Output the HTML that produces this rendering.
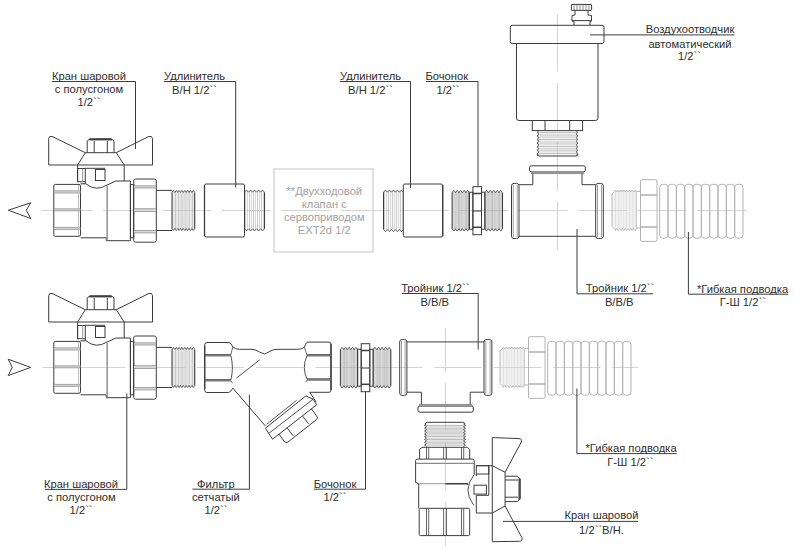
<!DOCTYPE html>
<html><head><meta charset="utf-8"><title>scheme</title>
<style>
html,body{margin:0;padding:0;background:#fff;width:800px;height:549px;overflow:hidden}
svg{display:block}
text{font-family:"Liberation Sans",sans-serif}
</style></head><body>
<svg width="800" height="549" viewBox="0 0 800 549">
<rect x="0" y="0" width="800" height="549" fill="#fff"/>
<line x1="41.5" y1="210.5" x2="92.7" y2="210.5" stroke="#d4d4d4" stroke-width="1"/>
<line x1="103.2" y1="210.5" x2="152.1" y2="210.5" stroke="#d4d4d4" stroke-width="1"/>
<line x1="162.6" y1="210.5" x2="211.5" y2="210.5" stroke="#d4d4d4" stroke-width="1"/>
<line x1="222" y1="210.5" x2="270.9" y2="210.5" stroke="#d4d4d4" stroke-width="1"/>
<line x1="281.4" y1="210.5" x2="330.3" y2="210.5" stroke="#d4d4d4" stroke-width="1"/>
<line x1="340.8" y1="210.5" x2="389.7" y2="210.5" stroke="#d4d4d4" stroke-width="1"/>
<line x1="400.2" y1="210.5" x2="449.1" y2="210.5" stroke="#d4d4d4" stroke-width="1"/>
<line x1="459.6" y1="210.5" x2="508.5" y2="210.5" stroke="#d4d4d4" stroke-width="1"/>
<line x1="519" y1="210.5" x2="567.9" y2="210.5" stroke="#d4d4d4" stroke-width="1"/>
<line x1="578.4" y1="210.5" x2="627.3" y2="210.5" stroke="#d4d4d4" stroke-width="1"/>
<line x1="637.8" y1="210.5" x2="686.7" y2="210.5" stroke="#d4d4d4" stroke-width="1"/>
<line x1="697.2" y1="210.5" x2="746.1" y2="210.5" stroke="#d4d4d4" stroke-width="1"/>
<line x1="42.5" y1="367.5" x2="65.8" y2="367.5" stroke="#d4d4d4" stroke-width="1"/>
<line x1="77.8" y1="367.5" x2="125.2" y2="367.5" stroke="#d4d4d4" stroke-width="1"/>
<line x1="137.2" y1="367.5" x2="184.6" y2="367.5" stroke="#d4d4d4" stroke-width="1"/>
<line x1="196.6" y1="367.5" x2="244" y2="367.5" stroke="#d4d4d4" stroke-width="1"/>
<line x1="256" y1="367.5" x2="303.4" y2="367.5" stroke="#d4d4d4" stroke-width="1"/>
<line x1="315.4" y1="367.5" x2="362.8" y2="367.5" stroke="#d4d4d4" stroke-width="1"/>
<line x1="374.8" y1="367.5" x2="422.2" y2="367.5" stroke="#d4d4d4" stroke-width="1"/>
<line x1="434.2" y1="367.5" x2="481.6" y2="367.5" stroke="#d4d4d4" stroke-width="1"/>
<line x1="493.6" y1="367.5" x2="541" y2="367.5" stroke="#d4d4d4" stroke-width="1"/>
<line x1="553" y1="367.5" x2="600.4" y2="367.5" stroke="#d4d4d4" stroke-width="1"/>
<line x1="612.4" y1="367.5" x2="638.5" y2="367.5" stroke="#d4d4d4" stroke-width="1"/>
<line x1="557.5" y1="14.5" x2="557.5" y2="71.9" stroke="#d4d4d4" stroke-width="1"/>
<line x1="557.5" y1="82.9" x2="557.5" y2="131.3" stroke="#d4d4d4" stroke-width="1"/>
<line x1="557.5" y1="142.3" x2="557.5" y2="190.7" stroke="#d4d4d4" stroke-width="1"/>
<line x1="557.5" y1="201.7" x2="557.5" y2="250.1" stroke="#d4d4d4" stroke-width="1"/>
<line x1="445.5" y1="328" x2="445.5" y2="372" stroke="#d4d4d4" stroke-width="1"/>
<line x1="445.5" y1="383" x2="445.5" y2="431.4" stroke="#d4d4d4" stroke-width="1"/>
<line x1="445.5" y1="442.4" x2="445.5" y2="490.8" stroke="#d4d4d4" stroke-width="1"/>
<line x1="445.5" y1="501.8" x2="445.5" y2="546" stroke="#d4d4d4" stroke-width="1"/>
<path d="M30.75,202.75 L8.25,210.25 L30.75,218.5 L26.25,210.25 Z" stroke="#3d3d3d" stroke-width="1" fill="none"/>
<path d="M8.2,359.2 L30.6,367.4 L8.2,375.6 L12.2,367.4 Z" stroke="#3d3d3d" stroke-width="1" fill="none"/>
<path d="M48.7,165 L48.7,138.5 Q48.9,135.8 52,136.4 L85.3,152.7 L116.3,152.7 L149,136.4 Q152.3,135.8 152.5,138.5 L152.5,165 Z" stroke="#3d3d3d" stroke-width="1" fill="none"/>
<line x1="85.3" y1="152.7" x2="77.6" y2="165" stroke="#3d3d3d" stroke-width="1"/>
<line x1="116.3" y1="152.7" x2="124.2" y2="165" stroke="#3d3d3d" stroke-width="1"/>
<path d="M87.2,152.7 L87.2,141 L90,138.7 L111.2,138.7 L114,141 L114,152.7" stroke="#3d3d3d" stroke-width="1" fill="none"/>
<line x1="89" y1="139.7" x2="112" y2="139.7" stroke="#3d3d3d" stroke-width="1.4"/>
<line x1="94.2" y1="141" x2="94.2" y2="152.7" stroke="#3d3d3d" stroke-width="1"/>
<line x1="107.3" y1="141" x2="107.3" y2="152.7" stroke="#3d3d3d" stroke-width="1"/>
<line x1="77.6" y1="165" x2="77.6" y2="181.5" stroke="#3d3d3d" stroke-width="1"/>
<line x1="124.2" y1="165" x2="124.2" y2="181" stroke="#3d3d3d" stroke-width="1"/>
<rect x="77.6" y="168.5" width="7.7" height="13.2" rx="0" stroke="#3d3d3d" stroke-width="1" fill="none"/>
<line x1="82.7" y1="168.5" x2="82.7" y2="181.7" stroke="#888" stroke-width="0.9"/>
<line x1="85.3" y1="181.7" x2="85.3" y2="183.8" stroke="#3d3d3d" stroke-width="1"/>
<line x1="85.3" y1="168.3" x2="105" y2="168.3" stroke="#3d3d3d" stroke-width="1"/>
<rect x="95.5" y="169.5" width="9.5" height="11" rx="0" stroke="#3d3d3d" stroke-width="1" fill="none"/>
<rect x="53.8" y="184.4" width="26.7" height="51.9" rx="1.5" stroke="#3d3d3d" stroke-width="1" fill="none"/>
<rect x="54" y="190.8" width="26.3" height="2.2" fill="#dadada"/>
<line x1="54" y1="190.8" x2="80.3" y2="190.8" stroke="#858585" stroke-width="0.7"/>
<line x1="54" y1="193" x2="80.3" y2="193" stroke="#858585" stroke-width="0.7"/>
<rect x="54" y="208.8" width="26.3" height="2" fill="#dadada"/>
<line x1="54" y1="208.8" x2="80.3" y2="208.8" stroke="#858585" stroke-width="0.7"/>
<line x1="54" y1="210.8" x2="80.3" y2="210.8" stroke="#858585" stroke-width="0.7"/>
<rect x="54" y="227.4" width="26.3" height="2" fill="#dadada"/>
<line x1="54" y1="227.4" x2="80.3" y2="227.4" stroke="#858585" stroke-width="0.7"/>
<line x1="54" y1="229.4" x2="80.3" y2="229.4" stroke="#858585" stroke-width="0.7"/>
<line x1="78.6" y1="185" x2="78.6" y2="236" stroke="#bbb" stroke-width="1"/>
<path d="M80.5,183.8 L86,183.8 Q96,192 107,185 L116,181 L130.4,181 L130.4,240.7 L106.3,240.7 L106.3,237.8 L80.5,237.8" stroke="#3d3d3d" stroke-width="1" fill="none"/>
<line x1="107.2" y1="185.5" x2="107.2" y2="240.2" stroke="#999" stroke-width="1.6"/>
<rect x="130.4" y="184.6" width="3.3" height="53.2" rx="0" stroke="#3d3d3d" stroke-width="1" fill="none"/>
<rect x="133.7" y="179" width="22.6" height="63.2" rx="2" stroke="#3d3d3d" stroke-width="1" fill="none"/>
<rect x="134" y="185.8" width="22" height="2.2" fill="#dadada"/>
<line x1="134" y1="185.8" x2="156" y2="185.8" stroke="#858585" stroke-width="0.7"/>
<line x1="134" y1="188" x2="156" y2="188" stroke="#858585" stroke-width="0.7"/>
<rect x="134" y="208.7" width="22" height="2.8" fill="#dadada"/>
<line x1="134" y1="208.7" x2="156" y2="208.7" stroke="#858585" stroke-width="0.7"/>
<line x1="134" y1="211.5" x2="156" y2="211.5" stroke="#858585" stroke-width="0.7"/>
<rect x="134" y="230.5" width="22" height="2.4" fill="#dadada"/>
<line x1="134" y1="230.5" x2="156" y2="230.5" stroke="#858585" stroke-width="0.7"/>
<line x1="134" y1="232.9" x2="156" y2="232.9" stroke="#858585" stroke-width="0.7"/>
<path d="M156.3,190.4 L172,190.4 M156.3,230.5 L172,230.5" stroke="#3d3d3d" stroke-width="1" fill="none"/>
<line x1="172.71" y1="191.6" x2="172.71" y2="229.3" stroke="#b0b0b0" stroke-width="0.7"/>
<line x1="174.13" y1="191.6" x2="174.13" y2="229.3" stroke="#c6c6c6" stroke-width="0.7"/>
<line x1="175.55" y1="191.6" x2="175.55" y2="229.3" stroke="#b0b0b0" stroke-width="0.7"/>
<line x1="176.97" y1="191.6" x2="176.97" y2="229.3" stroke="#c6c6c6" stroke-width="0.7"/>
<line x1="178.38" y1="191.6" x2="178.38" y2="229.3" stroke="#b0b0b0" stroke-width="0.7"/>
<line x1="179.8" y1="191.6" x2="179.8" y2="229.3" stroke="#c6c6c6" stroke-width="0.7"/>
<line x1="181.22" y1="191.6" x2="181.22" y2="229.3" stroke="#b0b0b0" stroke-width="0.7"/>
<line x1="182.64" y1="191.6" x2="182.64" y2="229.3" stroke="#c6c6c6" stroke-width="0.7"/>
<line x1="184.06" y1="191.6" x2="184.06" y2="229.3" stroke="#b0b0b0" stroke-width="0.7"/>
<line x1="185.48" y1="191.6" x2="185.48" y2="229.3" stroke="#c6c6c6" stroke-width="0.7"/>
<line x1="186.9" y1="191.6" x2="186.9" y2="229.3" stroke="#b0b0b0" stroke-width="0.7"/>
<line x1="188.32" y1="191.6" x2="188.32" y2="229.3" stroke="#c6c6c6" stroke-width="0.7"/>
<line x1="189.73" y1="191.6" x2="189.73" y2="229.3" stroke="#b0b0b0" stroke-width="0.7"/>
<line x1="191.15" y1="191.6" x2="191.15" y2="229.3" stroke="#c6c6c6" stroke-width="0.7"/>
<line x1="192.57" y1="191.6" x2="192.57" y2="229.3" stroke="#b0b0b0" stroke-width="0.7"/>
<line x1="193.99" y1="191.6" x2="193.99" y2="229.3" stroke="#c6c6c6" stroke-width="0.7"/>
<path d="M172,192.4 L173.42,190.4 L174.84,192.4 L176.26,190.4 L177.68,192.4 L179.09,190.4 L180.51,192.4 L181.93,190.4 L183.35,192.4 L184.77,190.4 L186.19,192.4 L187.61,190.4 L189.03,192.4 L190.44,190.4 L191.86,192.4 L193.28,190.4 L194.7,192.4" stroke="#3d3d3d" stroke-width="0.8" fill="none"/>
<path d="M172,228.5 L173.42,230.5 L174.84,228.5 L176.26,230.5 L177.68,228.5 L179.09,230.5 L180.51,228.5 L181.93,230.5 L183.35,228.5 L184.77,230.5 L186.19,228.5 L187.61,230.5 L189.03,228.5 L190.44,230.5 L191.86,228.5 L193.28,230.5 L194.7,228.5" stroke="#3d3d3d" stroke-width="0.8" fill="none"/>
<line x1="172" y1="192.4" x2="172" y2="228.5" stroke="#3d3d3d" stroke-width="1"/>
<line x1="194.7" y1="192.4" x2="194.7" y2="228.5" stroke="#3d3d3d" stroke-width="1.1"/>
<path d="M48.7,322 L48.7,295.5 Q48.9,292.8 52,293.4 L85.3,309.7 L116.3,309.7 L149,293.4 Q152.3,292.8 152.5,295.5 L152.5,322 Z" stroke="#3d3d3d" stroke-width="1" fill="none"/>
<line x1="85.3" y1="309.7" x2="77.6" y2="322" stroke="#3d3d3d" stroke-width="1"/>
<line x1="116.3" y1="309.7" x2="124.2" y2="322" stroke="#3d3d3d" stroke-width="1"/>
<path d="M87.2,309.7 L87.2,298 L90,295.7 L111.2,295.7 L114,298 L114,309.7" stroke="#3d3d3d" stroke-width="1" fill="none"/>
<line x1="89" y1="296.7" x2="112" y2="296.7" stroke="#3d3d3d" stroke-width="1.4"/>
<line x1="94.2" y1="298" x2="94.2" y2="309.7" stroke="#3d3d3d" stroke-width="1"/>
<line x1="107.3" y1="298" x2="107.3" y2="309.7" stroke="#3d3d3d" stroke-width="1"/>
<line x1="77.6" y1="322" x2="77.6" y2="338.5" stroke="#3d3d3d" stroke-width="1"/>
<line x1="124.2" y1="322" x2="124.2" y2="338" stroke="#3d3d3d" stroke-width="1"/>
<rect x="77.6" y="325.5" width="7.7" height="13.2" rx="0" stroke="#3d3d3d" stroke-width="1" fill="none"/>
<line x1="82.7" y1="325.5" x2="82.7" y2="338.7" stroke="#888" stroke-width="0.9"/>
<line x1="85.3" y1="338.7" x2="85.3" y2="340.8" stroke="#3d3d3d" stroke-width="1"/>
<line x1="85.3" y1="325.3" x2="105" y2="325.3" stroke="#3d3d3d" stroke-width="1"/>
<rect x="95.5" y="326.5" width="9.5" height="11" rx="0" stroke="#3d3d3d" stroke-width="1" fill="none"/>
<rect x="53.8" y="341.4" width="26.7" height="51.9" rx="1.5" stroke="#3d3d3d" stroke-width="1" fill="none"/>
<rect x="54" y="347.8" width="26.3" height="2.2" fill="#dadada"/>
<line x1="54" y1="347.8" x2="80.3" y2="347.8" stroke="#858585" stroke-width="0.7"/>
<line x1="54" y1="350" x2="80.3" y2="350" stroke="#858585" stroke-width="0.7"/>
<rect x="54" y="365.8" width="26.3" height="2" fill="#dadada"/>
<line x1="54" y1="365.8" x2="80.3" y2="365.8" stroke="#858585" stroke-width="0.7"/>
<line x1="54" y1="367.8" x2="80.3" y2="367.8" stroke="#858585" stroke-width="0.7"/>
<rect x="54" y="384.4" width="26.3" height="2" fill="#dadada"/>
<line x1="54" y1="384.4" x2="80.3" y2="384.4" stroke="#858585" stroke-width="0.7"/>
<line x1="54" y1="386.4" x2="80.3" y2="386.4" stroke="#858585" stroke-width="0.7"/>
<line x1="78.6" y1="342" x2="78.6" y2="393" stroke="#bbb" stroke-width="1"/>
<path d="M80.5,340.8 L86,340.8 Q96,349 107,342 L116,338 L130.4,338 L130.4,397.7 L106.3,397.7 L106.3,394.8 L80.5,394.8" stroke="#3d3d3d" stroke-width="1" fill="none"/>
<line x1="107.2" y1="342.5" x2="107.2" y2="397.2" stroke="#999" stroke-width="1.6"/>
<rect x="130.4" y="341.6" width="3.3" height="53.2" rx="0" stroke="#3d3d3d" stroke-width="1" fill="none"/>
<rect x="133.7" y="336" width="22.6" height="63.2" rx="2" stroke="#3d3d3d" stroke-width="1" fill="none"/>
<rect x="134" y="342.8" width="22" height="2.2" fill="#dadada"/>
<line x1="134" y1="342.8" x2="156" y2="342.8" stroke="#858585" stroke-width="0.7"/>
<line x1="134" y1="345" x2="156" y2="345" stroke="#858585" stroke-width="0.7"/>
<rect x="134" y="365.7" width="22" height="2.8" fill="#dadada"/>
<line x1="134" y1="365.7" x2="156" y2="365.7" stroke="#858585" stroke-width="0.7"/>
<line x1="134" y1="368.5" x2="156" y2="368.5" stroke="#858585" stroke-width="0.7"/>
<rect x="134" y="387.5" width="22" height="2.4" fill="#dadada"/>
<line x1="134" y1="387.5" x2="156" y2="387.5" stroke="#858585" stroke-width="0.7"/>
<line x1="134" y1="389.9" x2="156" y2="389.9" stroke="#858585" stroke-width="0.7"/>
<path d="M156.3,347.4 L172,347.4 M156.3,387.5 L172,387.5" stroke="#3d3d3d" stroke-width="1" fill="none"/>
<line x1="172.71" y1="348.6" x2="172.71" y2="386.3" stroke="#b0b0b0" stroke-width="0.7"/>
<line x1="174.13" y1="348.6" x2="174.13" y2="386.3" stroke="#c6c6c6" stroke-width="0.7"/>
<line x1="175.55" y1="348.6" x2="175.55" y2="386.3" stroke="#b0b0b0" stroke-width="0.7"/>
<line x1="176.97" y1="348.6" x2="176.97" y2="386.3" stroke="#c6c6c6" stroke-width="0.7"/>
<line x1="178.38" y1="348.6" x2="178.38" y2="386.3" stroke="#b0b0b0" stroke-width="0.7"/>
<line x1="179.8" y1="348.6" x2="179.8" y2="386.3" stroke="#c6c6c6" stroke-width="0.7"/>
<line x1="181.22" y1="348.6" x2="181.22" y2="386.3" stroke="#b0b0b0" stroke-width="0.7"/>
<line x1="182.64" y1="348.6" x2="182.64" y2="386.3" stroke="#c6c6c6" stroke-width="0.7"/>
<line x1="184.06" y1="348.6" x2="184.06" y2="386.3" stroke="#b0b0b0" stroke-width="0.7"/>
<line x1="185.48" y1="348.6" x2="185.48" y2="386.3" stroke="#c6c6c6" stroke-width="0.7"/>
<line x1="186.9" y1="348.6" x2="186.9" y2="386.3" stroke="#b0b0b0" stroke-width="0.7"/>
<line x1="188.32" y1="348.6" x2="188.32" y2="386.3" stroke="#c6c6c6" stroke-width="0.7"/>
<line x1="189.73" y1="348.6" x2="189.73" y2="386.3" stroke="#b0b0b0" stroke-width="0.7"/>
<line x1="191.15" y1="348.6" x2="191.15" y2="386.3" stroke="#c6c6c6" stroke-width="0.7"/>
<line x1="192.57" y1="348.6" x2="192.57" y2="386.3" stroke="#b0b0b0" stroke-width="0.7"/>
<line x1="193.99" y1="348.6" x2="193.99" y2="386.3" stroke="#c6c6c6" stroke-width="0.7"/>
<path d="M172,349.4 L173.42,347.4 L174.84,349.4 L176.26,347.4 L177.68,349.4 L179.09,347.4 L180.51,349.4 L181.93,347.4 L183.35,349.4 L184.77,347.4 L186.19,349.4 L187.61,347.4 L189.03,349.4 L190.44,347.4 L191.86,349.4 L193.28,347.4 L194.7,349.4" stroke="#3d3d3d" stroke-width="0.8" fill="none"/>
<path d="M172,385.5 L173.42,387.5 L174.84,385.5 L176.26,387.5 L177.68,385.5 L179.09,387.5 L180.51,385.5 L181.93,387.5 L183.35,385.5 L184.77,387.5 L186.19,385.5 L187.61,387.5 L189.03,385.5 L190.44,387.5 L191.86,385.5 L193.28,387.5 L194.7,385.5" stroke="#3d3d3d" stroke-width="0.8" fill="none"/>
<line x1="172" y1="349.4" x2="172" y2="385.5" stroke="#3d3d3d" stroke-width="1"/>
<line x1="194.7" y1="349.4" x2="194.7" y2="385.5" stroke="#3d3d3d" stroke-width="1.1"/>
<rect x="204.5" y="184" width="40" height="53" rx="1.6" stroke="#3d3d3d" stroke-width="1" fill="none"/>
<line x1="204.5" y1="185" x2="204.5" y2="236" stroke="#3d3d3d" stroke-width="1.3"/>
<line x1="245.5" y1="191.32" x2="245.5" y2="229.68" stroke="#b0b0b0" stroke-width="0.7"/>
<line x1="247.5" y1="191.32" x2="247.5" y2="229.68" stroke="#c6c6c6" stroke-width="0.7"/>
<line x1="249.5" y1="191.32" x2="249.5" y2="229.68" stroke="#b0b0b0" stroke-width="0.7"/>
<line x1="251.5" y1="191.32" x2="251.5" y2="229.68" stroke="#c6c6c6" stroke-width="0.7"/>
<line x1="253.5" y1="191.32" x2="253.5" y2="229.68" stroke="#b0b0b0" stroke-width="0.7"/>
<line x1="255.5" y1="191.32" x2="255.5" y2="229.68" stroke="#c6c6c6" stroke-width="0.7"/>
<line x1="257.5" y1="191.32" x2="257.5" y2="229.68" stroke="#b0b0b0" stroke-width="0.7"/>
<line x1="259.5" y1="191.32" x2="259.5" y2="229.68" stroke="#c6c6c6" stroke-width="0.7"/>
<line x1="261.5" y1="191.32" x2="261.5" y2="229.68" stroke="#b0b0b0" stroke-width="0.7"/>
<line x1="263.5" y1="191.32" x2="263.5" y2="229.68" stroke="#c6c6c6" stroke-width="0.7"/>
<path d="M244.5,192.2 L246.5,190 L248.5,192.2 L250.5,190 L252.5,192.2 L254.5,190 L256.5,192.2 L258.5,190 L260.5,192.2 L262.5,190 L264.5,192.2" stroke="#3d3d3d" stroke-width="0.8" fill="none"/>
<path d="M244.5,228.8 L246.5,231 L248.5,228.8 L250.5,231 L252.5,228.8 L254.5,231 L256.5,228.8 L258.5,231 L260.5,228.8 L262.5,231 L264.5,228.8" stroke="#3d3d3d" stroke-width="0.8" fill="none"/>
<line x1="264.5" y1="192.2" x2="264.5" y2="228.8" stroke="#3d3d3d" stroke-width="1.1"/>
<line x1="384.49" y1="191.32" x2="384.49" y2="230.38" stroke="#b0b0b0" stroke-width="0.7"/>
<line x1="386.47" y1="191.32" x2="386.47" y2="230.38" stroke="#c6c6c6" stroke-width="0.7"/>
<line x1="388.45" y1="191.32" x2="388.45" y2="230.38" stroke="#b0b0b0" stroke-width="0.7"/>
<line x1="390.43" y1="191.32" x2="390.43" y2="230.38" stroke="#c6c6c6" stroke-width="0.7"/>
<line x1="392.41" y1="191.32" x2="392.41" y2="230.38" stroke="#b0b0b0" stroke-width="0.7"/>
<line x1="394.39" y1="191.32" x2="394.39" y2="230.38" stroke="#c6c6c6" stroke-width="0.7"/>
<line x1="396.37" y1="191.32" x2="396.37" y2="230.38" stroke="#b0b0b0" stroke-width="0.7"/>
<line x1="398.35" y1="191.32" x2="398.35" y2="230.38" stroke="#c6c6c6" stroke-width="0.7"/>
<line x1="400.33" y1="191.32" x2="400.33" y2="230.38" stroke="#b0b0b0" stroke-width="0.7"/>
<line x1="402.31" y1="191.32" x2="402.31" y2="230.38" stroke="#c6c6c6" stroke-width="0.7"/>
<path d="M383.5,192.2 L385.48,190 L387.46,192.2 L389.44,190 L391.42,192.2 L393.4,190 L395.38,192.2 L397.36,190 L399.34,192.2 L401.32,190 L403.3,192.2" stroke="#3d3d3d" stroke-width="0.8" fill="none"/>
<path d="M383.5,229.5 L385.48,231.7 L387.46,229.5 L389.44,231.7 L391.42,229.5 L393.4,231.7 L395.38,229.5 L397.36,231.7 L399.34,229.5 L401.32,231.7 L403.3,229.5" stroke="#3d3d3d" stroke-width="0.8" fill="none"/>
<line x1="383.5" y1="192.2" x2="383.5" y2="229.5" stroke="#3d3d3d" stroke-width="1"/>
<rect x="403.3" y="184" width="39.4" height="53" rx="1.6" stroke="#3d3d3d" stroke-width="1" fill="none"/>
<line x1="442.7" y1="185" x2="442.7" y2="236" stroke="#3d3d3d" stroke-width="1.3"/>
<rect x="274" y="169" width="99" height="83" rx="0" stroke="#c4c4c4" stroke-width="1" fill="none"/>
<text x="324.3" y="194.8" fill="#a2a2a2" text-anchor="middle" font-size="11.2">**Двухходовой</text>
<text x="324.3" y="207.8" fill="#a2a2a2" text-anchor="middle" font-size="11.2">клапан с</text>
<text x="324.3" y="221.2" fill="#a2a2a2" text-anchor="middle" font-size="11.2">сервоприводом</text>
<text x="324.3" y="234.2" fill="#a2a2a2" text-anchor="middle" font-size="11.2">EXT2d 1/2</text>
<line x1="452.67" y1="191.74" x2="452.67" y2="229.66" stroke="#a4a4a4" stroke-width="0.7"/>
<line x1="453.82" y1="191.74" x2="453.82" y2="229.66" stroke="#bababa" stroke-width="0.7"/>
<line x1="454.97" y1="191.74" x2="454.97" y2="229.66" stroke="#a4a4a4" stroke-width="0.7"/>
<line x1="456.11" y1="191.74" x2="456.11" y2="229.66" stroke="#a4a4a4" stroke-width="0.7"/>
<line x1="457.26" y1="191.74" x2="457.26" y2="229.66" stroke="#bababa" stroke-width="0.7"/>
<line x1="458.41" y1="191.74" x2="458.41" y2="229.66" stroke="#a4a4a4" stroke-width="0.7"/>
<line x1="459.55" y1="191.74" x2="459.55" y2="229.66" stroke="#a4a4a4" stroke-width="0.7"/>
<line x1="460.7" y1="191.74" x2="460.7" y2="229.66" stroke="#bababa" stroke-width="0.7"/>
<line x1="461.85" y1="191.74" x2="461.85" y2="229.66" stroke="#a4a4a4" stroke-width="0.7"/>
<line x1="462.99" y1="191.74" x2="462.99" y2="229.66" stroke="#a4a4a4" stroke-width="0.7"/>
<line x1="464.14" y1="191.74" x2="464.14" y2="229.66" stroke="#bababa" stroke-width="0.7"/>
<line x1="465.29" y1="191.74" x2="465.29" y2="229.66" stroke="#a4a4a4" stroke-width="0.7"/>
<line x1="466.43" y1="191.74" x2="466.43" y2="229.66" stroke="#a4a4a4" stroke-width="0.7"/>
<line x1="467.58" y1="191.74" x2="467.58" y2="229.66" stroke="#bababa" stroke-width="0.7"/>
<line x1="468.73" y1="191.74" x2="468.73" y2="229.66" stroke="#a4a4a4" stroke-width="0.7"/>
<path d="M452.1,192.7 L453.82,190.3 L455.54,192.7 L457.26,190.3 L458.98,192.7 L460.7,190.3 L462.42,192.7 L464.14,190.3 L465.86,192.7 L467.58,190.3 L469.3,192.7" stroke="#3d3d3d" stroke-width="0.8" fill="none"/>
<path d="M452.1,228.7 L453.82,231.1 L455.54,228.7 L457.26,231.1 L458.98,228.7 L460.7,231.1 L462.42,228.7 L464.14,231.1 L465.86,228.7 L467.58,231.1 L469.3,228.7" stroke="#3d3d3d" stroke-width="0.8" fill="none"/>
<line x1="452.1" y1="192.7" x2="452.1" y2="228.7" stroke="#3d3d3d" stroke-width="1"/>
<line x1="469.3" y1="192.7" x2="469.3" y2="228.7" stroke="#3d3d3d" stroke-width="1.1"/>
<rect x="469.3" y="192.2" width="3.6" height="37" rx="0" stroke="#3d3d3d" stroke-width="1" fill="none"/>
<rect x="472.9" y="186.7" width="8.6" height="48" rx="0" stroke="#3d3d3d" stroke-width="1" fill="none"/>
<line x1="472.9" y1="193.5" x2="481.5" y2="193.5" stroke="#3d3d3d" stroke-width="1.5"/>
<line x1="472.9" y1="227.3" x2="481.5" y2="227.3" stroke="#3d3d3d" stroke-width="1.5"/>
<line x1="472.9" y1="211" x2="481.5" y2="211" stroke="#3d3d3d" stroke-width="1"/>
<rect x="481.5" y="192.2" width="3.4" height="37" rx="0" stroke="#3d3d3d" stroke-width="1" fill="none"/>
<line x1="485.49" y1="191.74" x2="485.49" y2="229.66" stroke="#a4a4a4" stroke-width="0.7"/>
<line x1="486.66" y1="191.74" x2="486.66" y2="229.66" stroke="#bababa" stroke-width="0.7"/>
<line x1="487.83" y1="191.74" x2="487.83" y2="229.66" stroke="#a4a4a4" stroke-width="0.7"/>
<line x1="489.01" y1="191.74" x2="489.01" y2="229.66" stroke="#a4a4a4" stroke-width="0.7"/>
<line x1="490.18" y1="191.74" x2="490.18" y2="229.66" stroke="#bababa" stroke-width="0.7"/>
<line x1="491.35" y1="191.74" x2="491.35" y2="229.66" stroke="#a4a4a4" stroke-width="0.7"/>
<line x1="492.53" y1="191.74" x2="492.53" y2="229.66" stroke="#a4a4a4" stroke-width="0.7"/>
<line x1="493.7" y1="191.74" x2="493.7" y2="229.66" stroke="#bababa" stroke-width="0.7"/>
<line x1="494.87" y1="191.74" x2="494.87" y2="229.66" stroke="#a4a4a4" stroke-width="0.7"/>
<line x1="496.05" y1="191.74" x2="496.05" y2="229.66" stroke="#a4a4a4" stroke-width="0.7"/>
<line x1="497.22" y1="191.74" x2="497.22" y2="229.66" stroke="#bababa" stroke-width="0.7"/>
<line x1="498.39" y1="191.74" x2="498.39" y2="229.66" stroke="#a4a4a4" stroke-width="0.7"/>
<line x1="499.57" y1="191.74" x2="499.57" y2="229.66" stroke="#a4a4a4" stroke-width="0.7"/>
<line x1="500.74" y1="191.74" x2="500.74" y2="229.66" stroke="#bababa" stroke-width="0.7"/>
<line x1="501.91" y1="191.74" x2="501.91" y2="229.66" stroke="#a4a4a4" stroke-width="0.7"/>
<path d="M484.9,192.7 L486.66,190.3 L488.42,192.7 L490.18,190.3 L491.94,192.7 L493.7,190.3 L495.46,192.7 L497.22,190.3 L498.98,192.7 L500.74,190.3 L502.5,192.7" stroke="#3d3d3d" stroke-width="0.8" fill="none"/>
<path d="M484.9,228.7 L486.66,231.1 L488.42,228.7 L490.18,231.1 L491.94,228.7 L493.7,231.1 L495.46,228.7 L497.22,231.1 L498.98,228.7 L500.74,231.1 L502.5,228.7" stroke="#3d3d3d" stroke-width="0.8" fill="none"/>
<line x1="484.9" y1="192.7" x2="484.9" y2="228.7" stroke="#3d3d3d" stroke-width="1"/>
<line x1="502.5" y1="192.7" x2="502.5" y2="228.7" stroke="#3d3d3d" stroke-width="1.1"/>
<line x1="340.97" y1="348.74" x2="340.97" y2="386.66" stroke="#a4a4a4" stroke-width="0.7"/>
<line x1="342.12" y1="348.74" x2="342.12" y2="386.66" stroke="#bababa" stroke-width="0.7"/>
<line x1="343.27" y1="348.74" x2="343.27" y2="386.66" stroke="#a4a4a4" stroke-width="0.7"/>
<line x1="344.41" y1="348.74" x2="344.41" y2="386.66" stroke="#a4a4a4" stroke-width="0.7"/>
<line x1="345.56" y1="348.74" x2="345.56" y2="386.66" stroke="#bababa" stroke-width="0.7"/>
<line x1="346.71" y1="348.74" x2="346.71" y2="386.66" stroke="#a4a4a4" stroke-width="0.7"/>
<line x1="347.85" y1="348.74" x2="347.85" y2="386.66" stroke="#a4a4a4" stroke-width="0.7"/>
<line x1="349" y1="348.74" x2="349" y2="386.66" stroke="#bababa" stroke-width="0.7"/>
<line x1="350.15" y1="348.74" x2="350.15" y2="386.66" stroke="#a4a4a4" stroke-width="0.7"/>
<line x1="351.29" y1="348.74" x2="351.29" y2="386.66" stroke="#a4a4a4" stroke-width="0.7"/>
<line x1="352.44" y1="348.74" x2="352.44" y2="386.66" stroke="#bababa" stroke-width="0.7"/>
<line x1="353.59" y1="348.74" x2="353.59" y2="386.66" stroke="#a4a4a4" stroke-width="0.7"/>
<line x1="354.73" y1="348.74" x2="354.73" y2="386.66" stroke="#a4a4a4" stroke-width="0.7"/>
<line x1="355.88" y1="348.74" x2="355.88" y2="386.66" stroke="#bababa" stroke-width="0.7"/>
<line x1="357.03" y1="348.74" x2="357.03" y2="386.66" stroke="#a4a4a4" stroke-width="0.7"/>
<path d="M340.4,349.7 L342.12,347.3 L343.84,349.7 L345.56,347.3 L347.28,349.7 L349,347.3 L350.72,349.7 L352.44,347.3 L354.16,349.7 L355.88,347.3 L357.6,349.7" stroke="#3d3d3d" stroke-width="0.8" fill="none"/>
<path d="M340.4,385.7 L342.12,388.1 L343.84,385.7 L345.56,388.1 L347.28,385.7 L349,388.1 L350.72,385.7 L352.44,388.1 L354.16,385.7 L355.88,388.1 L357.6,385.7" stroke="#3d3d3d" stroke-width="0.8" fill="none"/>
<line x1="340.4" y1="349.7" x2="340.4" y2="385.7" stroke="#3d3d3d" stroke-width="1"/>
<line x1="357.6" y1="349.7" x2="357.6" y2="385.7" stroke="#3d3d3d" stroke-width="1.1"/>
<rect x="357.6" y="349.2" width="3.6" height="37" rx="0" stroke="#3d3d3d" stroke-width="1" fill="none"/>
<rect x="361.2" y="343.7" width="8.6" height="48" rx="0" stroke="#3d3d3d" stroke-width="1" fill="none"/>
<line x1="361.2" y1="350.5" x2="369.8" y2="350.5" stroke="#3d3d3d" stroke-width="1.5"/>
<line x1="361.2" y1="384.3" x2="369.8" y2="384.3" stroke="#3d3d3d" stroke-width="1.5"/>
<line x1="361.2" y1="368" x2="369.8" y2="368" stroke="#3d3d3d" stroke-width="1"/>
<rect x="369.8" y="349.2" width="3.4" height="37" rx="0" stroke="#3d3d3d" stroke-width="1" fill="none"/>
<line x1="373.79" y1="348.74" x2="373.79" y2="386.66" stroke="#a4a4a4" stroke-width="0.7"/>
<line x1="374.96" y1="348.74" x2="374.96" y2="386.66" stroke="#bababa" stroke-width="0.7"/>
<line x1="376.13" y1="348.74" x2="376.13" y2="386.66" stroke="#a4a4a4" stroke-width="0.7"/>
<line x1="377.31" y1="348.74" x2="377.31" y2="386.66" stroke="#a4a4a4" stroke-width="0.7"/>
<line x1="378.48" y1="348.74" x2="378.48" y2="386.66" stroke="#bababa" stroke-width="0.7"/>
<line x1="379.65" y1="348.74" x2="379.65" y2="386.66" stroke="#a4a4a4" stroke-width="0.7"/>
<line x1="380.83" y1="348.74" x2="380.83" y2="386.66" stroke="#a4a4a4" stroke-width="0.7"/>
<line x1="382" y1="348.74" x2="382" y2="386.66" stroke="#bababa" stroke-width="0.7"/>
<line x1="383.17" y1="348.74" x2="383.17" y2="386.66" stroke="#a4a4a4" stroke-width="0.7"/>
<line x1="384.35" y1="348.74" x2="384.35" y2="386.66" stroke="#a4a4a4" stroke-width="0.7"/>
<line x1="385.52" y1="348.74" x2="385.52" y2="386.66" stroke="#bababa" stroke-width="0.7"/>
<line x1="386.69" y1="348.74" x2="386.69" y2="386.66" stroke="#a4a4a4" stroke-width="0.7"/>
<line x1="387.87" y1="348.74" x2="387.87" y2="386.66" stroke="#a4a4a4" stroke-width="0.7"/>
<line x1="389.04" y1="348.74" x2="389.04" y2="386.66" stroke="#bababa" stroke-width="0.7"/>
<line x1="390.21" y1="348.74" x2="390.21" y2="386.66" stroke="#a4a4a4" stroke-width="0.7"/>
<path d="M373.2,349.7 L374.96,347.3 L376.72,349.7 L378.48,347.3 L380.24,349.7 L382,347.3 L383.76,349.7 L385.52,347.3 L387.28,349.7 L389.04,347.3 L390.8,349.7" stroke="#3d3d3d" stroke-width="0.8" fill="none"/>
<path d="M373.2,385.7 L374.96,388.1 L376.72,385.7 L378.48,388.1 L380.24,385.7 L382,388.1 L383.76,385.7 L385.52,388.1 L387.28,385.7 L389.04,388.1 L390.8,385.7" stroke="#3d3d3d" stroke-width="0.8" fill="none"/>
<line x1="373.2" y1="349.7" x2="373.2" y2="385.7" stroke="#3d3d3d" stroke-width="1"/>
<line x1="390.8" y1="349.7" x2="390.8" y2="385.7" stroke="#3d3d3d" stroke-width="1.1"/>
<rect x="511.5" y="183.4" width="7.5" height="55.1" rx="2.5" stroke="#3d3d3d" stroke-width="1" fill="none"/>
<line x1="513.3" y1="184.9" x2="513.3" y2="237" stroke="#8a8a8a" stroke-width="0.8"/>
<line x1="517.2" y1="184.9" x2="517.2" y2="237" stroke="#8a8a8a" stroke-width="0.8"/>
<rect x="595.7" y="183.4" width="7.6" height="55.1" rx="2.5" stroke="#3d3d3d" stroke-width="1" fill="none"/>
<line x1="597.5" y1="184.9" x2="597.5" y2="237" stroke="#8a8a8a" stroke-width="0.8"/>
<line x1="601.5" y1="184.9" x2="601.5" y2="237" stroke="#8a8a8a" stroke-width="0.8"/>
<path d="M519,184.7 L532.8,184.7 L532.8,172.4 M582,172.4 L582,184.7 L595.7,184.7 M519,236.3 L595.7,236.3" stroke="#3d3d3d" stroke-width="1" fill="none"/>
<rect x="529.5" y="165.8" width="55.8" height="6.2" rx="2" stroke="#3d3d3d" stroke-width="1" fill="none"/>
<rect x="531" y="172" width="53" height="1.6" fill="#a8a8a8"/>
<line x1="531" y1="172" x2="584" y2="172" stroke="#777" stroke-width="0.7"/>
<line x1="531" y1="173.6" x2="584" y2="173.6" stroke="#777" stroke-width="0.7"/>
<rect x="399.7" y="339.5" width="7.2" height="55.9" rx="2.5" stroke="#3d3d3d" stroke-width="1" fill="none"/>
<line x1="401.5" y1="341" x2="401.5" y2="393.9" stroke="#8a8a8a" stroke-width="0.8"/>
<line x1="405.1" y1="341" x2="405.1" y2="393.9" stroke="#8a8a8a" stroke-width="0.8"/>
<rect x="484" y="339.5" width="7.9" height="55.9" rx="2.5" stroke="#3d3d3d" stroke-width="1" fill="none"/>
<line x1="485.8" y1="341" x2="485.8" y2="393.9" stroke="#8a8a8a" stroke-width="0.8"/>
<line x1="490.1" y1="341" x2="490.1" y2="393.9" stroke="#8a8a8a" stroke-width="0.8"/>
<path d="M406.9,341.9 L484,341.9 M406.9,392.2 L421.4,392.2 L421.4,405 M470.2,405 L470.2,392.2 L484,392.2" stroke="#3d3d3d" stroke-width="1" fill="none"/>
<rect x="418" y="406" width="55.3" height="6.2" rx="2" stroke="#3d3d3d" stroke-width="1" fill="none"/>
<rect x="419" y="404.4" width="53.3" height="1.6" fill="#a8a8a8"/>
<line x1="419" y1="404.4" x2="472.3" y2="404.4" stroke="#777" stroke-width="0.7"/>
<line x1="419" y1="406" x2="472.3" y2="406" stroke="#777" stroke-width="0.7"/>
<rect x="510.3" y="25.3" width="93.7" height="18.2" rx="2" stroke="#3d3d3d" stroke-width="1" fill="none"/>
<path d="M516.5,43.5 L516.5,118 Q516.5,120.5 519,120.5 L595.5,120.5 Q598,120.5 598,118 L598,43.5" stroke="#3d3d3d" stroke-width="1" fill="none"/>
<rect x="571.4" y="4.4" width="20.2" height="6" rx="0.6" stroke="#3d3d3d" stroke-width="1" fill="none"/>
<line x1="574" y1="4.5" x2="574" y2="10" stroke="#3d3d3d" stroke-width="0.6"/>
<line x1="577" y1="4.5" x2="577" y2="10" stroke="#3d3d3d" stroke-width="0.6"/>
<line x1="580" y1="4.5" x2="580" y2="10" stroke="#3d3d3d" stroke-width="0.6"/>
<line x1="583" y1="4.5" x2="583" y2="10" stroke="#3d3d3d" stroke-width="0.6"/>
<line x1="586" y1="4.5" x2="586" y2="10" stroke="#3d3d3d" stroke-width="0.6"/>
<line x1="589" y1="4.5" x2="589" y2="10" stroke="#3d3d3d" stroke-width="0.6"/>
<path d="M575,10.3 L575,15 L572,15.5 L572,21 L574,21.3 L574,25.3 M588,10.3 L588,15 L591.5,15.5 L591.5,21 L590,21.3 L590,25.3 M572,20.6 L591.5,20.6" stroke="#3d3d3d" stroke-width="1" fill="none"/>
<rect x="532.3" y="120.5" width="50.3" height="10.1" rx="0" stroke="#3d3d3d" stroke-width="1" fill="none"/>
<line x1="545" y1="120.5" x2="545" y2="130.6" stroke="#3d3d3d" stroke-width="1"/>
<line x1="569.7" y1="120.5" x2="569.7" y2="130.6" stroke="#3d3d3d" stroke-width="1"/>
<line x1="537.5" y1="132.38" x2="577.5" y2="132.38" stroke="#a8a8a8" stroke-width="0.8"/>
<line x1="537.5" y1="135.94" x2="577.5" y2="135.94" stroke="#a8a8a8" stroke-width="0.8"/>
<line x1="539" y1="134.16" x2="576" y2="134.16" stroke="#bdbdbd" stroke-width="0.7"/>
<line x1="537.5" y1="139.49" x2="577.5" y2="139.49" stroke="#a8a8a8" stroke-width="0.8"/>
<line x1="539" y1="137.71" x2="576" y2="137.71" stroke="#bdbdbd" stroke-width="0.7"/>
<line x1="537.5" y1="143.05" x2="577.5" y2="143.05" stroke="#a8a8a8" stroke-width="0.8"/>
<line x1="539" y1="141.27" x2="576" y2="141.27" stroke="#bdbdbd" stroke-width="0.7"/>
<line x1="537.5" y1="146.61" x2="577.5" y2="146.61" stroke="#a8a8a8" stroke-width="0.8"/>
<line x1="539" y1="144.83" x2="576" y2="144.83" stroke="#bdbdbd" stroke-width="0.7"/>
<line x1="537.5" y1="150.16" x2="577.5" y2="150.16" stroke="#a8a8a8" stroke-width="0.8"/>
<line x1="539" y1="148.39" x2="576" y2="148.39" stroke="#bdbdbd" stroke-width="0.7"/>
<line x1="537.5" y1="153.72" x2="577.5" y2="153.72" stroke="#a8a8a8" stroke-width="0.8"/>
<line x1="539" y1="151.94" x2="576" y2="151.94" stroke="#bdbdbd" stroke-width="0.7"/>
<path d="M539,130.6 L537,132.38 L539,134.16 L537,135.94 L539,137.71 L537,139.49 L539,141.27 L537,143.05 L539,144.83 L537,146.61 L539,148.39 L537,150.16 L539,151.94 L537,153.72 L539,155.5" stroke="#3d3d3d" stroke-width="0.8" fill="none"/>
<path d="M576,130.6 L578,132.38 L576,134.16 L578,135.94 L576,137.71 L578,139.49 L576,141.27 L578,143.05 L576,144.83 L578,146.61 L576,148.39 L578,150.16 L576,151.94 L578,153.72 L576,155.5" stroke="#3d3d3d" stroke-width="0.8" fill="none"/>
<path d="M537,154 Q537,156 539,156 L576,156 Q578,156 578,154" stroke="#3d3d3d" stroke-width="1" fill="none"/>
<line x1="615.4" y1="191" x2="615.4" y2="229.5" stroke="#cfcfcf" stroke-width="0.7"/>
<line x1="614" y1="192" x2="614" y2="228.5" stroke="#dedede" stroke-width="0.6"/>
<line x1="618.2" y1="191" x2="618.2" y2="229.5" stroke="#cfcfcf" stroke-width="0.7"/>
<line x1="616.8" y1="192" x2="616.8" y2="228.5" stroke="#dedede" stroke-width="0.6"/>
<line x1="621" y1="191" x2="621" y2="229.5" stroke="#cfcfcf" stroke-width="0.7"/>
<line x1="619.6" y1="192" x2="619.6" y2="228.5" stroke="#dedede" stroke-width="0.6"/>
<line x1="623.8" y1="191" x2="623.8" y2="229.5" stroke="#cfcfcf" stroke-width="0.7"/>
<line x1="622.4" y1="192" x2="622.4" y2="228.5" stroke="#dedede" stroke-width="0.6"/>
<line x1="626.6" y1="191" x2="626.6" y2="229.5" stroke="#cfcfcf" stroke-width="0.7"/>
<line x1="625.2" y1="192" x2="625.2" y2="228.5" stroke="#dedede" stroke-width="0.6"/>
<line x1="629.4" y1="191" x2="629.4" y2="229.5" stroke="#cfcfcf" stroke-width="0.7"/>
<line x1="628" y1="192" x2="628" y2="228.5" stroke="#dedede" stroke-width="0.6"/>
<line x1="632.2" y1="191" x2="632.2" y2="229.5" stroke="#cfcfcf" stroke-width="0.7"/>
<line x1="630.8" y1="192" x2="630.8" y2="228.5" stroke="#dedede" stroke-width="0.6"/>
<line x1="635" y1="191" x2="635" y2="229.5" stroke="#cfcfcf" stroke-width="0.7"/>
<line x1="633.6" y1="192" x2="633.6" y2="228.5" stroke="#dedede" stroke-width="0.6"/>
<path d="M612,194 L614,192 L615.4,190 L616.8,192 L618.2,190 L619.6,192 L621,190 L622.4,192 L623.8,190 L625.2,192 L626.6,190 L628,192 L629.4,190 L630.8,192 L632.2,190 L633.6,192 L635,190 L636.4,192" stroke="#b4b4b4" stroke-width="0.9" fill="none"/>
<path d="M612,226.5 L614,228.5 L615.4,230.5 L616.8,228.5 L618.2,230.5 L619.6,228.5 L621,230.5 L622.4,228.5 L623.8,230.5 L625.2,228.5 L626.6,230.5 L628,228.5 L629.4,230.5 L630.8,228.5 L632.2,230.5 L633.6,228.5 L635,230.5 L636.4,228.5" stroke="#b4b4b4" stroke-width="0.9" fill="none"/>
<line x1="612" y1="194" x2="612" y2="226.5" stroke="#b4b4b4" stroke-width="1"/>
<line x1="636.4" y1="192" x2="636.4" y2="228.5" stroke="#b4b4b4" stroke-width="0.8"/>
<path d="M636.4,191.4 L640.5,191.4 M636.4,228 L640.5,228" stroke="#b4b4b4" stroke-width="1" fill="none"/>
<rect x="640.5" y="179.7" width="16.5" height="61.7" rx="1.2" stroke="#b4b4b4" stroke-width="1" fill="none"/>
<line x1="640.5" y1="195" x2="657" y2="195" stroke="#b4b4b4" stroke-width="1.6"/>
<line x1="640.5" y1="227" x2="657" y2="227" stroke="#b4b4b4" stroke-width="1.6"/>
<rect x="659.7" y="184.3" width="8.33" height="53.9" rx="3.2" stroke="#b4b4b4" stroke-width="1" fill="none"/>
<rect x="668.03" y="184.3" width="8.33" height="53.9" rx="3.2" stroke="#b4b4b4" stroke-width="1" fill="none"/>
<rect x="676.36" y="184.3" width="8.33" height="53.9" rx="3.2" stroke="#b4b4b4" stroke-width="1" fill="none"/>
<rect x="684.69" y="184.3" width="8.33" height="53.9" rx="3.2" stroke="#b4b4b4" stroke-width="1" fill="none"/>
<rect x="693.02" y="184.3" width="8.33" height="53.9" rx="3.2" stroke="#b4b4b4" stroke-width="1" fill="none"/>
<rect x="701.35" y="184.3" width="8.33" height="53.9" rx="3.2" stroke="#b4b4b4" stroke-width="1" fill="none"/>
<rect x="709.68" y="184.3" width="8.33" height="53.9" rx="3.2" stroke="#b4b4b4" stroke-width="1" fill="none"/>
<rect x="718.01" y="184.3" width="8.33" height="53.9" rx="3.2" stroke="#b4b4b4" stroke-width="1" fill="none"/>
<rect x="726.34" y="184.3" width="8.33" height="53.9" rx="3.2" stroke="#b4b4b4" stroke-width="1" fill="none"/>
<rect x="734.67" y="184.3" width="8.33" height="53.9" rx="3.2" stroke="#b4b4b4" stroke-width="1" fill="none"/>
<line x1="503.4" y1="348" x2="503.4" y2="386.5" stroke="#cfcfcf" stroke-width="0.7"/>
<line x1="502" y1="349" x2="502" y2="385.5" stroke="#dedede" stroke-width="0.6"/>
<line x1="506.2" y1="348" x2="506.2" y2="386.5" stroke="#cfcfcf" stroke-width="0.7"/>
<line x1="504.8" y1="349" x2="504.8" y2="385.5" stroke="#dedede" stroke-width="0.6"/>
<line x1="509" y1="348" x2="509" y2="386.5" stroke="#cfcfcf" stroke-width="0.7"/>
<line x1="507.6" y1="349" x2="507.6" y2="385.5" stroke="#dedede" stroke-width="0.6"/>
<line x1="511.8" y1="348" x2="511.8" y2="386.5" stroke="#cfcfcf" stroke-width="0.7"/>
<line x1="510.4" y1="349" x2="510.4" y2="385.5" stroke="#dedede" stroke-width="0.6"/>
<line x1="514.6" y1="348" x2="514.6" y2="386.5" stroke="#cfcfcf" stroke-width="0.7"/>
<line x1="513.2" y1="349" x2="513.2" y2="385.5" stroke="#dedede" stroke-width="0.6"/>
<line x1="517.4" y1="348" x2="517.4" y2="386.5" stroke="#cfcfcf" stroke-width="0.7"/>
<line x1="516" y1="349" x2="516" y2="385.5" stroke="#dedede" stroke-width="0.6"/>
<line x1="520.2" y1="348" x2="520.2" y2="386.5" stroke="#cfcfcf" stroke-width="0.7"/>
<line x1="518.8" y1="349" x2="518.8" y2="385.5" stroke="#dedede" stroke-width="0.6"/>
<line x1="523" y1="348" x2="523" y2="386.5" stroke="#cfcfcf" stroke-width="0.7"/>
<line x1="521.6" y1="349" x2="521.6" y2="385.5" stroke="#dedede" stroke-width="0.6"/>
<path d="M500,351 L502,349 L503.4,347 L504.8,349 L506.2,347 L507.6,349 L509,347 L510.4,349 L511.8,347 L513.2,349 L514.6,347 L516,349 L517.4,347 L518.8,349 L520.2,347 L521.6,349 L523,347 L524.4,349" stroke="#b4b4b4" stroke-width="0.9" fill="none"/>
<path d="M500,383.5 L502,385.5 L503.4,387.5 L504.8,385.5 L506.2,387.5 L507.6,385.5 L509,387.5 L510.4,385.5 L511.8,387.5 L513.2,385.5 L514.6,387.5 L516,385.5 L517.4,387.5 L518.8,385.5 L520.2,387.5 L521.6,385.5 L523,387.5 L524.4,385.5" stroke="#b4b4b4" stroke-width="0.9" fill="none"/>
<line x1="500" y1="351" x2="500" y2="383.5" stroke="#b4b4b4" stroke-width="1"/>
<line x1="524.4" y1="349" x2="524.4" y2="385.5" stroke="#b4b4b4" stroke-width="0.8"/>
<path d="M524.4,348.4 L528.5,348.4 M524.4,385 L528.5,385" stroke="#b4b4b4" stroke-width="1" fill="none"/>
<rect x="528.5" y="336.7" width="16.5" height="61.7" rx="1.2" stroke="#b4b4b4" stroke-width="1" fill="none"/>
<line x1="528.5" y1="352" x2="545" y2="352" stroke="#b4b4b4" stroke-width="1.6"/>
<line x1="528.5" y1="384" x2="545" y2="384" stroke="#b4b4b4" stroke-width="1.6"/>
<rect x="547.7" y="341.3" width="8.33" height="53.9" rx="3.2" stroke="#b4b4b4" stroke-width="1" fill="none"/>
<rect x="556.03" y="341.3" width="8.33" height="53.9" rx="3.2" stroke="#b4b4b4" stroke-width="1" fill="none"/>
<rect x="564.36" y="341.3" width="8.33" height="53.9" rx="3.2" stroke="#b4b4b4" stroke-width="1" fill="none"/>
<rect x="572.69" y="341.3" width="8.33" height="53.9" rx="3.2" stroke="#b4b4b4" stroke-width="1" fill="none"/>
<rect x="581.02" y="341.3" width="8.33" height="53.9" rx="3.2" stroke="#b4b4b4" stroke-width="1" fill="none"/>
<rect x="589.35" y="341.3" width="8.33" height="53.9" rx="3.2" stroke="#b4b4b4" stroke-width="1" fill="none"/>
<rect x="597.68" y="341.3" width="8.33" height="53.9" rx="3.2" stroke="#b4b4b4" stroke-width="1" fill="none"/>
<rect x="606.01" y="341.3" width="8.33" height="53.9" rx="3.2" stroke="#b4b4b4" stroke-width="1" fill="none"/>
<rect x="614.34" y="341.3" width="8.33" height="53.9" rx="3.2" stroke="#b4b4b4" stroke-width="1" fill="none"/>
<rect x="622.67" y="341.3" width="8.33" height="53.9" rx="3.2" stroke="#b4b4b4" stroke-width="1" fill="none"/>
<path d="M229,342.5 L207,342.5 Q204.7,342.5 204.7,345 L204.7,390 Q204.7,392.5 207,392.5 L228.5,392.5" stroke="#3d3d3d" stroke-width="1" fill="none"/>
<line x1="204.7" y1="346" x2="204.7" y2="389" stroke="#3d3d3d" stroke-width="1.3"/>
<path d="M229,342.5 Q231.5,343.5 232.8,346.8 Q235,349.3 239.5,349.3 L252,349.3 Q256,349.6 259.5,352 L264.6,354.1 L270,351.3 Q273,349.3 277,349.3 L297.5,349.3 Q301.5,349.3 304.4,347.3 Q305.5,343.5 307.1,342.1" stroke="#3d3d3d" stroke-width="1" fill="none"/>
<path d="M232.8,346.8 L230.8,354.8" stroke="#3d3d3d" stroke-width="0.8" fill="none"/>
<rect x="205" y="354.5" width="25.8" height="1.5" fill="#9a9a9a"/>
<line x1="205" y1="354.5" x2="230.8" y2="354.5" stroke="#3d3d3d" stroke-width="0.7"/>
<line x1="205" y1="356" x2="230.8" y2="356" stroke="#3d3d3d" stroke-width="0.7"/>
<path d="M230.8,355.5 Q234,367.5 230.8,380" stroke="#3d3d3d" stroke-width="0.9" fill="none"/>
<rect x="205" y="379.5" width="25.8" height="1.5" fill="#9a9a9a"/>
<line x1="205" y1="379.5" x2="230.8" y2="379.5" stroke="#3d3d3d" stroke-width="0.7"/>
<line x1="205" y1="381" x2="230.8" y2="381" stroke="#3d3d3d" stroke-width="0.7"/>
<path d="M230.8,380.5 L232.6,383.3" stroke="#3d3d3d" stroke-width="0.8" fill="none"/>
<path d="M228.5,392.5 Q230.5,392.3 232.9,388.2 L265.4,426" stroke="#3d3d3d" stroke-width="1" fill="none"/>
<line x1="236.5" y1="378" x2="259.8" y2="359.8" stroke="#3d3d3d" stroke-width="0.9"/>
<path d="M307.1,342.1 L329,342.1 Q331,342.1 331,344.5 L331,390 Q331,392.3 329,392.3 L309.8,392.3" stroke="#3d3d3d" stroke-width="1" fill="none"/>
<line x1="331" y1="344" x2="331" y2="390" stroke="#3d3d3d" stroke-width="1.4"/>
<path d="M304.4,347.3 L307.1,355.2" stroke="#3d3d3d" stroke-width="0.8" fill="none"/>
<rect x="307.1" y="354.5" width="23.9" height="1.5" fill="#9a9a9a"/>
<line x1="307.1" y1="354.5" x2="331" y2="354.5" stroke="#3d3d3d" stroke-width="0.7"/>
<line x1="307.1" y1="356" x2="331" y2="356" stroke="#3d3d3d" stroke-width="0.7"/>
<path d="M307.1,355.2 Q301.5,367.8 307.1,379.4" stroke="#3d3d3d" stroke-width="0.9" fill="none"/>
<rect x="307.1" y="378.7" width="23.9" height="1.5" fill="#9a9a9a"/>
<line x1="307.1" y1="378.7" x2="331" y2="378.7" stroke="#3d3d3d" stroke-width="0.7"/>
<line x1="307.1" y1="380.2" x2="331" y2="380.2" stroke="#3d3d3d" stroke-width="0.7"/>
<path d="M307.1,379.9 L305.7,382.1" stroke="#3d3d3d" stroke-width="0.8" fill="none"/>
<path d="M309.8,392.3 L316,401.9" stroke="#3d3d3d" stroke-width="1" fill="none"/>
<path d="M265.4,428.2 L305.9,395.9 L313,399.2 L316.8,404.7 L272.5,439.2 Z" stroke="#3d3d3d" stroke-width="1" fill="none"/>
<line x1="266.5" y1="424.4" x2="296.6" y2="400.3" stroke="#3d3d3d" stroke-width="0.9"/>
<line x1="269.2" y1="433.1" x2="313" y2="399.2" stroke="#3d3d3d" stroke-width="0.9"/>
<path d="M279.1,434.2 L284.5,441.9 Q286,443 288,442 L316,420 Q318,418 317.4,417.3 L311.3,408.5" stroke="#3d3d3d" stroke-width="1" fill="none"/>
<line x1="287.3" y1="428.2" x2="293.3" y2="435.9" stroke="#3d3d3d" stroke-width="1"/>
<line x1="302.6" y1="416.2" x2="308.6" y2="423.8" stroke="#3d3d3d" stroke-width="1"/>
<line x1="425" y1="425.41" x2="465" y2="425.41" stroke="#a8a8a8" stroke-width="0.8"/>
<line x1="425" y1="428.22" x2="465" y2="428.22" stroke="#a8a8a8" stroke-width="0.8"/>
<line x1="426.5" y1="426.81" x2="463.5" y2="426.81" stroke="#bdbdbd" stroke-width="0.7"/>
<line x1="425" y1="431.03" x2="465" y2="431.03" stroke="#a8a8a8" stroke-width="0.8"/>
<line x1="426.5" y1="429.62" x2="463.5" y2="429.62" stroke="#bdbdbd" stroke-width="0.7"/>
<line x1="425" y1="433.84" x2="465" y2="433.84" stroke="#a8a8a8" stroke-width="0.8"/>
<line x1="426.5" y1="432.44" x2="463.5" y2="432.44" stroke="#bdbdbd" stroke-width="0.7"/>
<line x1="425" y1="436.66" x2="465" y2="436.66" stroke="#a8a8a8" stroke-width="0.8"/>
<line x1="426.5" y1="435.25" x2="463.5" y2="435.25" stroke="#bdbdbd" stroke-width="0.7"/>
<line x1="425" y1="439.47" x2="465" y2="439.47" stroke="#a8a8a8" stroke-width="0.8"/>
<line x1="426.5" y1="438.06" x2="463.5" y2="438.06" stroke="#bdbdbd" stroke-width="0.7"/>
<line x1="425" y1="442.28" x2="465" y2="442.28" stroke="#a8a8a8" stroke-width="0.8"/>
<line x1="426.5" y1="440.88" x2="463.5" y2="440.88" stroke="#bdbdbd" stroke-width="0.7"/>
<line x1="425" y1="445.09" x2="465" y2="445.09" stroke="#a8a8a8" stroke-width="0.8"/>
<line x1="426.5" y1="443.69" x2="463.5" y2="443.69" stroke="#bdbdbd" stroke-width="0.7"/>
<path d="M426.5,424 L424.5,425.41 L426.5,426.81 L424.5,428.22 L426.5,429.62 L424.5,431.03 L426.5,432.44 L424.5,433.84 L426.5,435.25 L424.5,436.66 L426.5,438.06 L424.5,439.47 L426.5,440.88 L424.5,442.28 L426.5,443.69 L424.5,445.09 L426.5,446.5" stroke="#3d3d3d" stroke-width="0.8" fill="none"/>
<path d="M463.5,424 L465.5,425.41 L463.5,426.81 L465.5,428.22 L463.5,429.62 L465.5,431.03 L463.5,432.44 L465.5,433.84 L463.5,435.25 L465.5,436.66 L463.5,438.06 L465.5,439.47 L463.5,440.88 L465.5,442.28 L463.5,443.69 L465.5,445.09 L463.5,446.5" stroke="#3d3d3d" stroke-width="0.8" fill="none"/>
<path d="M425,424.5 Q425,422.3 427.5,422.3 L462.5,422.3 Q465,422.3 465,424.5" stroke="#3d3d3d" stroke-width="1" fill="none"/>
<path d="M419.6,459.1 L419.6,449.5 L422,447.3 L467.3,447.3 L469.7,449.5 L469.7,459.1" stroke="#3d3d3d" stroke-width="1" fill="none"/>
<line x1="426.5" y1="447.3" x2="426.5" y2="459.1" stroke="#3d3d3d" stroke-width="0.8"/>
<line x1="428.7" y1="447.3" x2="428.7" y2="459.1" stroke="#3d3d3d" stroke-width="0.8"/>
<line x1="443.6" y1="447.3" x2="443.6" y2="459.1" stroke="#3d3d3d" stroke-width="0.8"/>
<line x1="446.5" y1="447.3" x2="446.5" y2="459.1" stroke="#3d3d3d" stroke-width="0.8"/>
<line x1="461.5" y1="447.3" x2="461.5" y2="459.1" stroke="#3d3d3d" stroke-width="0.8"/>
<line x1="463.7" y1="447.3" x2="463.7" y2="459.1" stroke="#3d3d3d" stroke-width="0.8"/>
<path d="M474.2,474.5 L474.2,460.6 Q474.2,459.1 472.7,459.1 L417.1,459.1 Q415.6,459.1 415.6,460.6 L415.6,482.5 L418.7,483.7 L418.7,508.3 L419.2,508.3" stroke="#3d3d3d" stroke-width="1" fill="none"/>
<line x1="415.8" y1="463.3" x2="474" y2="463.3" stroke="#8a8a8a" stroke-width="1.3"/>
<line x1="418.7" y1="483.7" x2="468" y2="483.7" stroke="#9a9a9a" stroke-width="1"/>
<line x1="445.5" y1="483.7" x2="468" y2="483.7" stroke="#3d3d3d" stroke-width="1.5"/>
<path d="M474.2,474.5 Q462,490 473.5,504.8 L474.2,504.8" stroke="#3d3d3d" stroke-width="0.9" fill="none"/>
<path d="M467.8,483.7 L467.8,485" stroke="#3d3d3d" stroke-width="1" fill="none"/>
<rect x="419.2" y="508.3" width="50.5" height="27.3" rx="1.2" stroke="#3d3d3d" stroke-width="1" fill="none"/>
<line x1="426.5" y1="508.5" x2="426.5" y2="535.4" stroke="#3d3d3d" stroke-width="0.8"/>
<line x1="428.7" y1="508.5" x2="428.7" y2="535.4" stroke="#3d3d3d" stroke-width="0.8"/>
<line x1="443.6" y1="508.5" x2="443.6" y2="535.4" stroke="#3d3d3d" stroke-width="0.8"/>
<line x1="446.5" y1="508.5" x2="446.5" y2="535.4" stroke="#3d3d3d" stroke-width="0.8"/>
<line x1="461.5" y1="508.5" x2="461.5" y2="535.4" stroke="#3d3d3d" stroke-width="0.8"/>
<line x1="463.7" y1="508.5" x2="463.7" y2="535.4" stroke="#3d3d3d" stroke-width="0.8"/>
<rect x="476.3" y="465.7" width="12.5" height="8.3" rx="0" stroke="#3d3d3d" stroke-width="1" fill="none"/>
<path d="M488.8,465.7 L488.8,495.3 L476.3,495.3 L476.3,513 L492.3,513" stroke="#3d3d3d" stroke-width="1" fill="none"/>
<line x1="476.3" y1="465.7" x2="492.3" y2="465.7" stroke="#3d3d3d" stroke-width="1"/>
<path d="M476.3,474 L476.3,476" stroke="#3d3d3d" stroke-width="1" fill="none"/>
<rect x="474" y="485.2" width="12.4" height="8.9" rx="0" stroke="#3d3d3d" stroke-width="1" fill="none"/>
<path d="M492.3,465.7 L505.1,472.3 L505.1,505.9 L492.3,513" stroke="#3d3d3d" stroke-width="1" fill="none"/>
<path d="M505.1,472.3 L521.3,442 Q522.5,438.8 519,438.6 L492.3,437.6 L492.3,541.7 L519.5,541.3 Q523,540.8 521.8,537.5 L505.1,505.9" stroke="#3d3d3d" stroke-width="1" fill="none"/>
<path d="M505.1,476.2 L517.5,476.2 L520.3,479 L520.3,498.8 L517.5,501.6 L505.1,501.6" stroke="#3d3d3d" stroke-width="1" fill="none"/>
<line x1="519.2" y1="478" x2="519.2" y2="500" stroke="#3d3d3d" stroke-width="1.4"/>
<line x1="505.1" y1="480" x2="518" y2="480" stroke="#3d3d3d" stroke-width="1"/>
<line x1="505.1" y1="497.2" x2="518" y2="497.2" stroke="#3d3d3d" stroke-width="1"/>
<path d="M52,81.5 L135.5,81.5 L135.5,149" stroke="#3d3d3d" stroke-width="1" fill="none"/>
<path d="M164,81.5 L235.7,81.5 L235.7,187.5" stroke="#3d3d3d" stroke-width="1" fill="none"/>
<path d="M340,81.5 L410.5,81.5 L410.5,188" stroke="#3d3d3d" stroke-width="1" fill="none"/>
<path d="M426,81.5 L478,81.5 L478,187" stroke="#3d3d3d" stroke-width="1" fill="none"/>
<path d="M590,34.9 L734.5,34.9" stroke="#3d3d3d" stroke-width="1" fill="none"/>
<path d="M577,229 L577,293.8 L653,293.8" stroke="#3d3d3d" stroke-width="1" fill="none"/>
<path d="M688.4,232 L688.4,294.2 L788,294.2" stroke="#3d3d3d" stroke-width="1" fill="none"/>
<path d="M402,293.5 L478.2,293.5 L478.2,349.7" stroke="#3d3d3d" stroke-width="1" fill="none"/>
<path d="M576.9,388.5 L576.9,453.6 L676.6,453.6" stroke="#3d3d3d" stroke-width="1" fill="none"/>
<path d="M503,521.4 L638,521.4" stroke="#3d3d3d" stroke-width="1" fill="none"/>
<path d="M44.9,489.4 L126.8,489.4 L126.8,393.4" stroke="#3d3d3d" stroke-width="1" fill="none"/>
<path d="M192.4,489.2 L249.4,489.2 L249.4,394.6" stroke="#3d3d3d" stroke-width="1" fill="none"/>
<path d="M314,489.2 L365.5,489.2 L365.5,391.8" stroke="#3d3d3d" stroke-width="1" fill="none"/>
<text x="89" y="80" fill="#2e2e2e" text-anchor="middle" font-size="11.2">Кран шаровой</text>
<text x="89" y="93" fill="#2e2e2e" text-anchor="middle" font-size="11.2">с полусгоном</text>
<text x="89" y="106" fill="#2e2e2e" text-anchor="middle" font-size="11.2">1/2``</text>
<text x="194.5" y="80" fill="#2e2e2e" text-anchor="middle" font-size="11.2">Удлинитель</text>
<text x="194.5" y="94" fill="#2e2e2e" text-anchor="middle" font-size="11.2">В/Н 1/2``</text>
<text x="370.5" y="80" fill="#2e2e2e" text-anchor="middle" font-size="11.2">Удлинитель</text>
<text x="370.5" y="94" fill="#2e2e2e" text-anchor="middle" font-size="11.2">В/Н 1/2``</text>
<text x="446.8" y="80" fill="#2e2e2e" text-anchor="middle" font-size="11.2">Бочонок</text>
<text x="448" y="94" fill="#2e2e2e" text-anchor="middle" font-size="11.2">1/2``</text>
<text x="690" y="33" fill="#2e2e2e" text-anchor="middle" font-size="11.2">Воздухоотводчик</text>
<text x="690" y="47.5" fill="#2e2e2e" text-anchor="middle" font-size="11.2">автоматический</text>
<text x="689.5" y="60" fill="#2e2e2e" text-anchor="middle" font-size="11.2">1/2``</text>
<text x="620" y="292" fill="#2e2e2e" text-anchor="middle" font-size="11.2">Тройник 1/2``</text>
<text x="619.2" y="306.3" fill="#2e2e2e" text-anchor="middle" font-size="11.2">В/В/В</text>
<text x="742.5" y="293" fill="#2e2e2e" text-anchor="middle" font-size="11.2">*Гибкая подводка</text>
<text x="742.8" y="306" fill="#2e2e2e" text-anchor="middle" font-size="11.2">Г-Ш 1/2``</text>
<text x="435.3" y="291.7" fill="#2e2e2e" text-anchor="middle" font-size="11.2">Тройник 1/2``</text>
<text x="434.7" y="306.3" fill="#2e2e2e" text-anchor="middle" font-size="11.2">В/В/В</text>
<text x="631" y="452.4" fill="#2e2e2e" text-anchor="middle" font-size="11.2">*Гибкая подводка</text>
<text x="630.4" y="466" fill="#2e2e2e" text-anchor="middle" font-size="11.2">Г-Ш 1/2``</text>
<text x="601.5" y="519.3" fill="#2e2e2e" text-anchor="middle" font-size="11.2">Кран шаровой</text>
<text x="601.5" y="533.6" fill="#2e2e2e" text-anchor="middle" font-size="11.2">1/2``В/Н.</text>
<text x="81" y="488.2" fill="#2e2e2e" text-anchor="middle" font-size="11.2">Кран шаровой</text>
<text x="81.5" y="500.6" fill="#2e2e2e" text-anchor="middle" font-size="11.2">с полусгоном</text>
<text x="81.1" y="513.6" fill="#2e2e2e" text-anchor="middle" font-size="11.2">1/2``</text>
<text x="215.9" y="488" fill="#2e2e2e" text-anchor="middle" font-size="11.2">Фильтр</text>
<text x="215.9" y="501" fill="#2e2e2e" text-anchor="middle" font-size="11.2">сетчатый</text>
<text x="216" y="514.2" fill="#2e2e2e" text-anchor="middle" font-size="11.2">1/2``</text>
<text x="335" y="488" fill="#2e2e2e" text-anchor="middle" font-size="11.2">Бочонок</text>
<text x="335" y="501" fill="#2e2e2e" text-anchor="middle" font-size="11.2">1/2``</text>
</svg></body></html>
